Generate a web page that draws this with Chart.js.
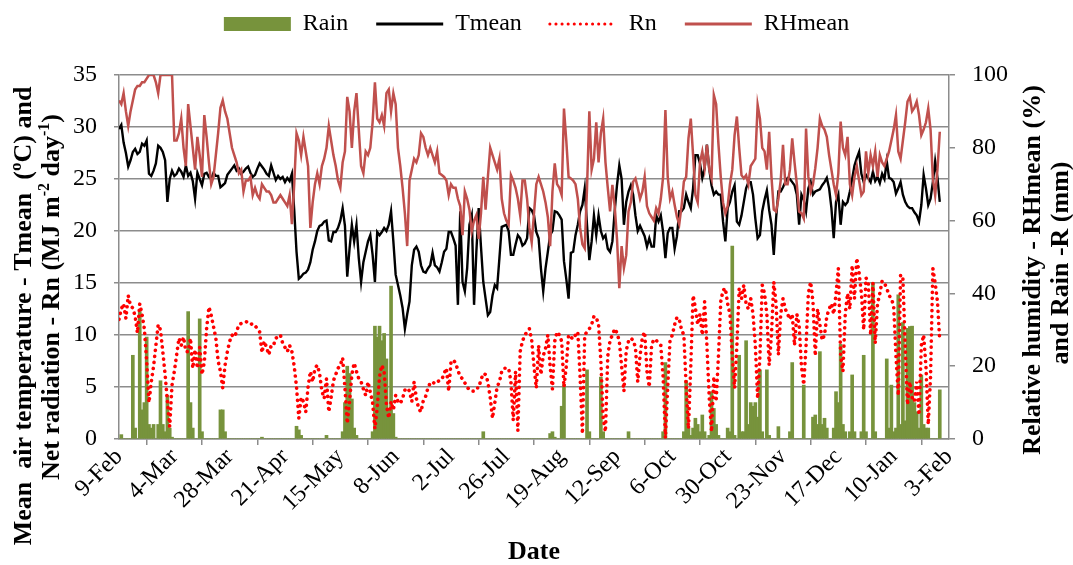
<!DOCTYPE html>
<html><head><meta charset="utf-8">
<script src="https://cdn.jsdelivr.net/npm/chart.js@4.4.0/dist/chart.umd.min.js"></script>
<style>html,body{margin:0;padding:0;background:#fff;}#wrap{width:1073px;height:565px;}</style>
</head><body><div id="wrap"><canvas id="c" width="1073" height="565"></canvas></div>
<script>
const tickLabels = ['9-Feb','4-Mar','28-Mar','21-Apr','15-May','8-Jun','2-Jul','26-Jul','19-Aug','12-Sep','6-Oct','30-Oct','23-Nov','17-Dec','10-Jan','3-Feb'];

const tmean = [
29.8,30.2,28.5,27.5,26.2,26.8,27.6,27.9,27.4,27.6,
28.4,28.2,28.7,25.5,25.3,25.8,26.5,28.2,28.0,27.6,
26.8,22.8,25.0,25.8,25.3,25.5,26.0,25.7,25.2,26.3,
25.3,25.6,24.8,23.1,25.6,25.0,24.4,25.5,25.6,25.2,
25.0,25.6,25.3,25.3,24.2,24.4,24.6,25.4,25.7,26.0,
26.3,25.8,26.0,25.5,25.7,26.0,26.2,25.6,25.2,25.4,
26.0,26.5,26.2,25.9,25.5,25.3,26.3,25.6,24.9,25.3,
25.0,25.2,24.7,25.1,24.8,25.5,22.0,18.0,15.4,15.6,
15.9,16.0,16.3,17.0,18.2,19.0,20.0,20.5,20.6,20.9,
21.0,19.1,19.0,19.9,19.9,20.3,21.0,22.2,20.5,15.6,
18.3,20.6,19.0,20.6,17.4,15.1,17.0,18.0,19.0,19.6,
17.7,15.1,19.9,19.6,19.9,20.3,20.0,20.6,21.9,19.0,
15.8,14.8,13.8,12.6,10.6,12.0,13.2,16.7,18.2,18.5,
18.0,16.7,16.1,16.0,16.4,16.7,17.9,16.7,16.5,16.1,
17.0,18.0,18.3,19.9,19.9,19.3,18.6,12.9,21.9,15.1,
14.2,16.4,20.6,21.5,12.9,18.0,22.2,18.5,15.1,13.5,
11.9,12.2,13.8,14.8,14.5,17.4,20.4,20.5,20.6,20.0,
17.7,17.7,18.7,19.6,19.3,18.6,18.8,19.3,22.2,22.0,
21.5,19.9,19.3,16.4,14.2,16.4,18.0,19.6,20.0,21.9,
21.8,21.5,21.1,17.1,15.4,13.5,17.9,18.0,19.6,20.6,
21.9,22.5,24.1,20.6,17.2,19.0,21.5,19.6,21.5,20.0,
19.3,19.6,18.3,18.0,19.0,21.9,24.4,26.3,25.0,20.6,
22.8,23.8,24.4,23.5,21.5,20.0,20.5,20.0,19.5,18.5,
19.3,18.5,18.5,21.5,20.9,21.5,19.9,17.4,19.8,20.3,
20.3,18.3,19.5,21.9,21.9,22.2,23.5,22.8,22.2,24.1,
27.3,27.3,26.5,25.1,26.0,28.3,26.0,24.4,23.5,23.8,
23.5,23.5,20.9,19.0,22.2,22.8,23.8,24.4,20.9,20.6,
21.5,22.8,24.1,24.7,24.7,23.5,21.2,19.3,19.6,21.9,
23.0,23.9,22.0,20.6,17.7,21.2,23.8,23.8,24.2,24.7,
25.1,25.0,24.7,24.4,23.5,20.6,23.5,23.0,21.9,24.1,
24.7,23.5,23.8,23.9,24.0,24.4,24.7,25.1,24.1,22.2,
19.3,22.8,23.5,20.6,22.8,22.5,22.8,23.8,25.0,26.3,
27.0,27.6,25.5,24.7,25.4,25.1,24.7,25.7,24.8,25.2,
24.6,25.5,25.0,26.7,25.1,25.0,24.7,23.6,24.1,24.7,
23.5,22.8,22.4,22.2,22.2,21.8,21.5,20.9,22.5,25.4,
24.1,22.5,23.1,24.7,26.7,25.1,22.8];

const rhmean = [
93,92,95,90,86,90,93,96,97,97,
98,98,99,100,100,100,98,95,100,100,
100,100,100,100,82,82,84,88,80,75,
92,86,80,74,83,78,72,89,83,76,
70,72,78,84,91,93,90,88,84,80,
78,76,73,74,68,71,71,72,67,69,
67,66,70,69,68,68,67,65,65,66,
67,66,65,64,67,59,70,84,82,78,
83,79,75,58,65,70,73,70,75,77,
80,86,82,78,75,71,69,76,79,94,
90,80,90,95,85,75,73,79,78,80,
87,98,88,87,89,86,95,96,90,95,
92,80,75,69,62,53,71,74,77,76,
78,84,83,80,78,80,78,76,79,73,
72.5,72,71,67,70,69,69,66,64,56,
68,66,63,57,60,61.5,55,62,72,63,
72,80,78,76,74,77,66,62,60,58.8,
72.5,71,69,66,61.5,71,71,66,58,54,
62,70,72,70,68,65,61,53,68,75.7,
70,69,67,90.8,82,72,71.6,71,70,66,
58,53.5,52.4,69,90,74,77,87,76,84,
88,76,69,62.5,69.8,64,55,41.4,53,47,
50.5,62.5,65,70.7,71.6,69,66,68,72,64,
62,61,60,63.4,62,66,72,90.4,72,66,
68,64.3,61,59,64,70.7,72,82.6,88,78,
67,65,76,79,74.4,80.8,74,71.6,94.5,92,
81,72,65,62,64,70,74,83.5,88.6,80,
72.5,71.6,72.5,70,75,76,77,91.8,88,80,
79,74,84.4,72,63,62.5,66,71,80.8,70,
70,74,82.6,76,70,62.5,62,60.6,85.3,72,
68,70,74.4,80,88,86,85,83,78,74,
70,67,73,87.2,80,78,83,70,67,72,
75,71,67,68,79,73,78,75,79,72,
78,76,75,77,79,82,85,89,79,77,
82,87,92.7,94,90,91,92.7,89,83.5,85,
87,90.8,85,71.6,67,74,84.4];

const rn = [
11.5,12.5,13.0,11.6,13.8,12.8,12.6,11.8,10.2,13.0,
12.0,10.6,7.5,3.5,5.5,7.0,9.0,11.0,10.5,8.4,
6.2,3.6,1.2,5.2,6.5,8.1,9.7,9.0,9.8,8.4,
8.4,9.7,6.8,8.6,6.8,8.8,6.2,7.4,10.6,12.7,
11.9,10.8,9.7,7.5,6.5,4.9,7.1,8.4,9.4,10.0,
9.8,10.3,11.0,11.1,11.2,11.3,11.2,11.0,11.1,10.9,
10.6,10.3,8.3,9.4,8.8,8.1,9.0,9.0,9.7,9.8,
10.0,9.2,8.8,8.4,9.0,8.4,7.0,5.0,2.0,4.0,
3.6,2.6,5.0,6.5,5.5,6.8,7.1,6.3,4.6,3.9,
5.8,2.6,4.0,5.6,6.2,6.8,7.1,7.8,4.9,1.5,
3.6,6.2,7.3,6.5,5.8,5.5,4.8,4.2,5.5,4.5,
3.5,1.0,3.0,6.0,7.1,6.5,3.3,2.0,3.6,2.8,
4.2,3.6,3.4,3.9,4.7,4.9,4.6,3.6,5.5,3.9,
2.9,2.6,3.7,4.1,4.9,5.4,5.5,5.3,5.5,5.6,
5.7,6.3,6.8,4.6,7.4,7.6,7.3,6.6,6.0,5.8,
5.4,5.0,4.7,4.6,4.6,4.9,4.9,5.7,6.3,6.2,
5.5,4.0,2.0,3.5,5.0,5.5,6.5,6.8,6.8,6.8,
5.5,1.8,6.5,0.8,8.4,9.4,10.0,10.3,10.6,9.5,
7.0,4.9,9.0,6.2,8.0,8.7,10.0,7.0,4.8,9.4,
10.3,10.0,9.4,5.0,7.0,10.0,9.8,9.6,10.0,10.3,
6.0,0.5,10.0,10.3,10.6,11.0,11.8,11.7,11.0,7.5,
2.0,0.7,8.0,9.5,10.0,10.6,10.2,9.4,7.0,4.6,
8.5,9.4,9.7,9.5,8.8,5.5,8.0,9.8,10.3,6.5,
5.0,9.0,9.6,9.5,9.2,9.0,6.0,0.1,5.0,9.5,
10.0,11.0,11.7,11.5,10.5,10.0,5.0,1.0,7.0,13.8,
12.6,11.0,12.0,10.0,13.2,9.0,4.0,0.7,6.0,3.6,
8.0,13.2,14.3,14.5,13.0,12.0,8.0,4.9,9.0,14.5,
13.5,14.8,13.0,12.5,13.5,12.0,9.0,3.9,8.0,14.8,
14.0,12.0,7.1,10.0,15.1,13.0,8.1,12.0,13.5,12.5,
12.0,11.5,12.0,9.0,12.0,11.0,7.0,5.2,9.0,14.0,
15.1,13.2,8.0,12.5,11.0,9.5,10.0,11.8,12.5,13.0,
12.0,14.0,16.4,8.0,6.5,12.0,14.0,12.5,16.7,13.5,
17.4,16.0,14.0,10.5,15.5,15.0,10.0,15.0,9.2,13.0,
14.0,15.2,15.0,14.5,13.8,13.5,12.8,8.0,4.2,15.8,
15.5,9.0,3.3,5.5,4.0,3.6,5.5,2.3,9.0,10.0,
7.0,1.4,6.0,16.4,15.0,13.2,9.4];

const rain = [
0,1.2,0,0,0,0,23,3,0,35,
8,10,28,4,3,4,0,4,16,4,
2,12,3,0.5,0,0,0,0,0,0,
35,10,3,0,0,33,2,0,0,0,
0,0,0,0,8,8,2,0,0,0,
0,0,0,0,0,0,0,0,0,0,
0,0,0.5,0,0,0,0,0,0,0,
0,0,0,0,0,0,0,3.5,2.5,1,
0,0,0,0,0,0,0,0,0,0,
1,0,0,0,0,0,0,2,10,20,
18,11,3,1,0,0,0,0,0,0,
2,31,28,31,27,29,22,8,42,7,
0.5,0,0,0,0,0,0,0,0,0,
0,0,0,0,0,0,0,0,0,0,
0,0,0,0,0,0,0,0,0,0,
0,0,0,0,0,0,0,0,2,0,
0,0,0,0,0,0,0,0,0,0,
0,0,0,0,0,0,0,0,0,0,
0,0,0,0,0,0,0,1.5,2,0.5,
0,0,9,15,0,0,0,0,0,0,
0,0,0,19,2,0,0,0,0,17,
2,0,0,0,0,0,0,0,0,0,
0,2,0,0,0,0,0,0,0,0,
0,0,0,0,0,0,2,21,0,0,
0,0,0,0,0,2,16,3,1,3,
5.7,4,2,6.6,2,0,1,13,8.4,4,
1,0,0,0,3,2,53,1,0,23,
2,2,27,4,10,9,10,6,19,2,
0,19,1,0,0,0,3.4,0,0,0,
0,2,21,0,0,0,0,14.8,0,0,
0,6,6.6,4,24,4,5.7,3,0,0,
3,13,10,26,4,2,0,2,17.6,2,
0,0,2,23,2,0,0,43,2,0,
0,0,0,22,3,14.8,2,3,39.6,4,
32,5,30.4,30.9,31,10,7.5,3,17.6,4,
3,3,0,0,0,0,13.5];

const days = tmean.map((_, i) => i);

const SERIF = '"Liberation Serif", "Times New Roman", Times, serif';
const GRID = '#8c8c8c';

const axisTitles = {
  id: 'axisTitles',
  afterDraw(chart) {
    const ctx = chart.ctx;
    const base = 'bold 26px ' + SERIF, sup = 'bold 16px ' + SERIF;
    function rich(parts, bx, cy) {
      ctx.save();
      ctx.translate(bx, cy);
      ctx.rotate(-Math.PI / 2);
      ctx.fillStyle = '#000';
      ctx.textBaseline = 'alphabetic';
      ctx.textAlign = 'left';
      let w = 0;
      parts.forEach(p => { ctx.font = p[1] ? sup : base; w += ctx.measureText(p[0]).width; });
      let x = -w / 2;
      parts.forEach(p => { ctx.font = p[1] ? sup : base; ctx.fillText(p[0], x, p[1] ? -10 : 0); x += ctx.measureText(p[0]).width; });
      ctx.restore();
    }
    rich([['Mean  air temperature - Tmean  (\u00BAC) and']], 31, 316);
    rich([['Net radiation - Rn (MJ m'], ['-2', 1], [' day'], ['-1', 1], [')']], 59, 297);
    rich([['Relative humidity - RHmean (%)']], 1040, 270);
    rich([['and Rain -R (mm)']], 1068, 263);
  }
};

Chart.defaults.font.family = SERIF;

new Chart(document.getElementById('c'), {
  type: 'bar',
  data: {
    labels: days,
    datasets: [
      { type: 'bar', label: 'Rain', data: rain, yAxisID: 'y1', backgroundColor: '#77933C', borderWidth: 0, barThickness: 3, order: 4 },
      { type: 'line', label: 'Tmean', data: tmean, yAxisID: 'y', borderColor: '#000000', backgroundColor: '#000000', borderWidth: 2.4, pointRadius: 0, tension: 0, fill: false, order: 3 },
      { type: 'line', label: 'Rn', data: rn, yAxisID: 'y', borderColor: '#FF0000', backgroundColor: '#FF0000', borderWidth: 3.6, borderDash: [0.1, 6], borderCapStyle: 'round', pointRadius: 0, tension: 0, fill: false, order: 2 },
      { type: 'line', label: 'RHmean', data: rhmean, yAxisID: 'y1', borderColor: '#C0504D', backgroundColor: '#C0504D', borderWidth: 2.5, pointRadius: 0, tension: 0, fill: false, order: 1 }
    ]
  },
  options: {
    responsive: false,
    devicePixelRatio: 1,
    animation: false,
    events: [],
    layout: { padding: { top: -16, left: 0, right: 0, bottom: 0 } },
    plugins: {
      tooltip: { enabled: false },
      title: { display: true, text: '', weight: 500, font: { size: 1, lineHeight: 1 }, padding: { top: 0, bottom: 28 } },
      legend: {
        position: 'top',
        labels: {
          usePointStyle: true, pointStyleWidth: 67, boxHeight: 14, padding: 28,
          color: '#000', font: { family: SERIF, size: 24 },
          sort: (a, b) => a.datasetIndex - b.datasetIndex,
          generateLabels(chart) {
            const items = Chart.defaults.plugins.legend.labels.generateLabels(chart);
            items.forEach(it => {
              const ds = chart.data.datasets[it.datasetIndex];
              if (ds.type === 'line') {
                it.pointStyle = 'line';
                it.strokeStyle = ds.borderColor;
                it.lineWidth = 3;
                it.lineDash = ds.borderDash || [];
                it.lineCap = ds.borderCapStyle || 'butt';
              } else {
                it.pointStyle = 'rect';
                it.fillStyle = ds.backgroundColor;
                it.strokeStyle = ds.backgroundColor;
                it.lineWidth = 0;
              }
            });
            return items;
          }
        }
      }
    },
    scales: {
      x: {
        type: 'linear', min: 0, max: 360, offset: false,
        ticks: { stepSize: 24, autoSkip: false, maxRotation: 45, minRotation: 45, padding: -2, color: '#000',
          font: { family: SERIF, size: 24 },
          callback: (v) => tickLabels[Math.round(v / 24)] },
        grid: { drawOnChartArea: false, drawTicks: true, tickLength: 6, color: GRID, lineWidth: 1.5 },
        border: { display: true, color: GRID, width: 1.5 },
        title: { display: true, text: 'Date', color: '#000', font: { family: SERIF, size: 26, weight: 'bold', lineHeight: 1 }, padding: { top: 0, bottom: 0 } },
        afterFit(s) { s.height = 126; }
      },
      y: {
        position: 'left', min: 0, max: 35,
        ticks: { stepSize: 5, color: '#000', padding: 17, font: { family: SERIF, size: 24 } },
        grid: { color: GRID, lineWidth: 1.5, tickLength: 5 },
        border: { display: true, color: GRID, width: 1.5 },
        afterFit(s) { s.width = 119; }
      },
      y1: {
        position: 'right', min: 0, max: 100,
        ticks: { stepSize: 20, color: '#000', padding: 17, font: { family: SERIF, size: 24 } },
        grid: { drawOnChartArea: false, color: GRID, lineWidth: 1.5, tickLength: 6 },
        border: { display: true, color: GRID, width: 1.5 },
        afterFit(s) { s.width = 124; }
      }
    }
  },
  plugins: [axisTitles]
});
</script>
</body></html>
